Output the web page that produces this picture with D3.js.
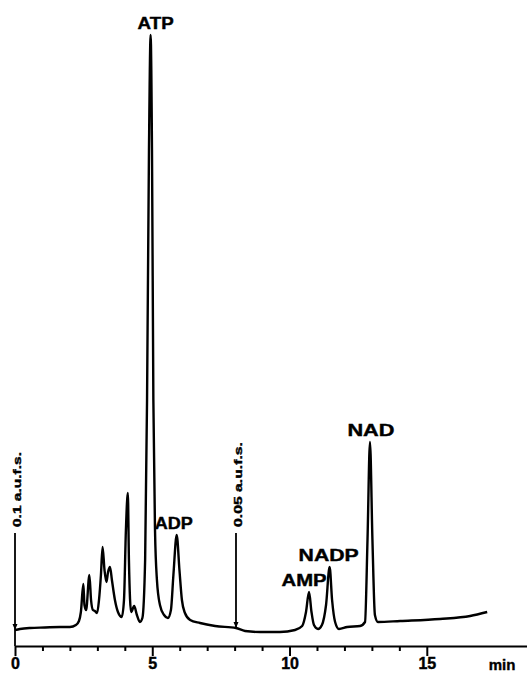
<!DOCTYPE html>
<html>
<head>
<meta charset="utf-8">
<script src="https://cdn.jsdelivr.net/npm/d3@7"></script>
<style>
    html, body { margin: 0; padding: 0; background: #fff; }
    svg { display: block; font-family: "Liberation Sans", Arial, sans-serif; }
    text { stroke: #000; stroke-width: 0.4px; }
</style>
</head>
<body>
<svg id="chart" width="527" height="677"></svg>
<script>
// retention time (min) and detector signal (arbitrary units)
const times = [
    0, 0.18, 0.55, 1.09, 1.64, 2.0, 2.22, 2.33, 2.4, 2.49, 2.53, 2.59, 2.71, 2.77,
    2.84, 2.91, 2.99, 3.06, 3.13, 3.19, 3.26, 3.33, 3.39, 3.46, 3.53, 3.64, 3.75,
    3.89, 3.97, 4.04, 4.11, 4.15, 4.23, 4.34, 4.44, 4.55, 4.64, 4.74, 4.81, 4.88,
    4.94, 4.99, 5.04, 5.1, 5.17, 5.28, 5.43, 5.57, 5.68, 5.77, 5.89, 5.99, 6.08,
    6.19, 6.38, 6.74, 7.29, 8.05, 8.38, 8.93, 9.65, 10.2, 10.46, 10.6, 10.71, 10.8,
    10.89, 11.04, 11.18, 11.33, 11.46, 11.55, 11.66, 11.8, 12.1, 12.57, 12.75,
    12.84, 12.93, 13.02, 13.11, 13.22, 14.03, 15.48, 16.58, 17.2
];
const signal = [
    15, 16, 17, 17.5, 18, 18, 20, 24, 33, 61, 40, 35, 70, 45,
    35, 34, 32, 45, 70, 98, 75, 63, 73, 78, 65, 45, 33,
    28, 45, 115, 152, 85, 33, 39, 30, 23, 27, 85, 245, 495,
    610, 495, 245, 115, 65, 40, 30, 27, 35, 70, 110, 75, 45,
    32, 25, 22, 19, 17, 14, 13, 13, 15, 19, 33, 53, 33,
    20, 16, 20, 40, 78, 45, 23, 16, 18, 19, 23,
    105, 203, 105, 30, 23, 24, 26, 29, 33
];

const peakNames = ["ATP", "ADP", "AMP", "NADP", "NAD"];
const peakTimes = [4.94, 5.89, 10.71, 11.46, 12.93];

const markerTimes = [0, 8.05];
const markerTexts = ["0.1 a.u.f.s.", "0.05 a.u.f.s."];

const tickValues = d3.range(0, 16, 1);
const tickLabels = ["0", "5", "10", "15"];
const axisUnit = "min";

class Chromatogram
{
    constructor(times, signal)
    {
        this.points = times.map((t, i) => ({ t: t, s: signal[i] }));
    }

    /**
     * Signal value at the nearest recorded point.
     */
    signalAt(t)
    {
        const i = d3.minIndex(this.points, p => Math.abs(p.t - t));
        return this.points[i].s;
    }

    draw(selector, width, height)
    {
        const svg = d3.select(selector);

        const x = d3.scaleLinear().domain([0, 18.65]).range([15, width]);
        const y = d3.scaleLinear().domain([0, 620]).range([645, 25]);
        const axisY = 646;

        // time axis
        const axis = d3.axisBottom(x)
            .tickValues(tickValues)
            .tickSize(5)
            .tickSizeOuter(0)
            .tickPadding(7)
            .tickFormat(d => tickLabels.includes(String(d)) ? String(d) : "");

        const gx = svg.append("g")
            .attr("transform", `translate(0,${axisY})`)
            .call(axis);

        gx.select(".domain")
            .attr("stroke", "#000")
            .attr("stroke-width", 1.8);
        gx.selectAll(".tick line")
            .attr("stroke", "#000")
            .attr("stroke-width", 2)
            .attr("y2", d => d % 5 === 0 ? 10 : 5);
        gx.selectAll(".tick text")
            .attr("fill", "#000")
            .attr("font-size", 16)
            .attr("font-weight", "bold")
            .attr("font-family", "'Liberation Sans', Arial, sans-serif");

        svg.append("text")
            .attr("x", 502)
            .attr("y", 670)
            .attr("text-anchor", "middle")
            .attr("font-size", 15)
            .attr("font-weight", "bold")
            .text(axisUnit);

        // trace
        const line = d3.line()
            .x(d => x(d.t))
            .y(d => y(d.s))
            .curve(d3.curveMonotoneX);

        svg.append("path")
            .datum(this.points)
            .attr("fill", "none")
            .attr("stroke", "#000")
            .attr("stroke-width", 2.4)
            .attr("stroke-linejoin", "round")
            .attr("d", line);

        // attenuation markers
        markerTimes.forEach((t, i) => {
            const mx = x(t);
            const bottom = i === 0 ? axisY : y(this.signalAt(t)) - 1;
            svg.append("line")
                .attr("x1", mx).attr("x2", mx)
                .attr("y1", 533).attr("y2", bottom)
                .attr("stroke", "#000")
                .attr("stroke-width", 1.8);
            const tipY = y(this.signalAt(t));
            svg.append("path")
                .attr("d", `M${mx - 2.5},${tipY - 6}L${mx + 2.5},${tipY - 6}L${mx},${tipY}Z`)
                .attr("fill", "#000");
            svg.append("text")
                .attr("transform", `translate(${mx + 6},527) rotate(-90)`)
                .attr("font-size", 11)
                .attr("font-weight", "bold")
                .attr("textLength", i === 0 ? 75 : 85)
                .attr("lengthAdjust", "spacingAndGlyphs")
                .text(markerTexts[i]);
        });

        // peak labels
        const labelDx = [5, -3, -5, -1, 1];
        const labelWidth = [36, 38, 45, 60, 47];
        peakNames.forEach((name, i) => {
            const t = peakTimes[i];
            svg.append("text")
                .attr("x", x(t) + labelDx[i] - labelWidth[i] / 2)
                .attr("y", y(this.signalAt(t)) - 6)
                .attr("font-size", 16)
                .attr("font-weight", "bold")
                .attr("textLength", labelWidth[i])
                .attr("lengthAdjust", "spacingAndGlyphs")
                .text(name);
        });

        return svg.node();
    }
}

new Chromatogram(times, signal).draw("#chart", 527, 677);
</script>
</body>
</html>
